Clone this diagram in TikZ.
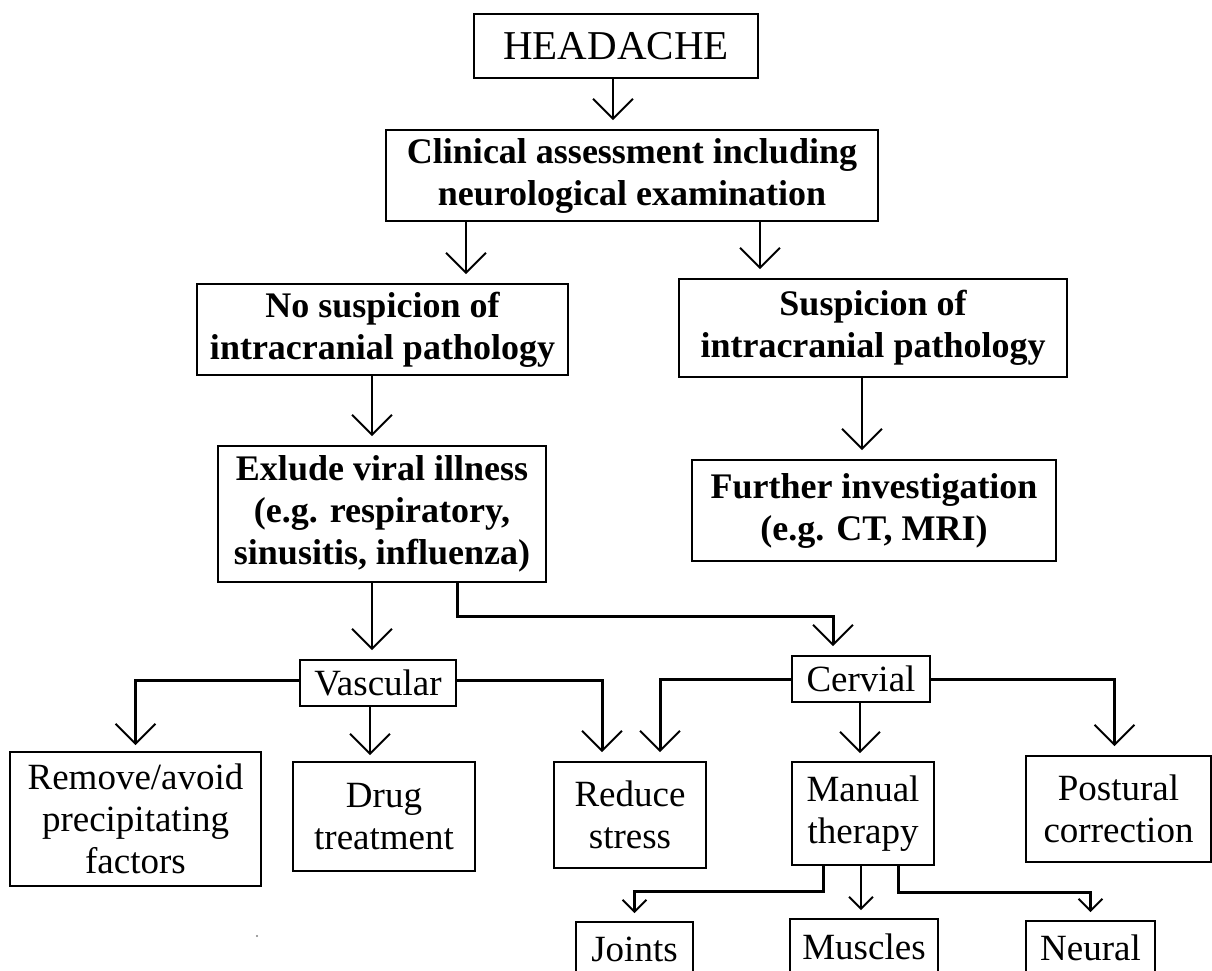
\documentclass[tikz,border=0pt]{standalone}
\usepackage{fontspec}
\setmainfont{Liberation Serif}
\usetikzlibrary{arrows.meta}

\begin{document}
\begin{tikzpicture}[x=1pt, y=-1pt,
    box/.style={draw, line width=1.6pt, inner sep=0pt, align=center},
    bbox/.style={box, font=\fontsize{36}{42}\selectfont\bfseries},
    pbox/.style={box, font=\fontsize{37}{42}\selectfont},
    arr/.style={-{Straight Barb[length=20pt,width=40pt,line width=2pt]}, line width=2pt, shorten >=9pt},
    elbow/.style={arr, line width=3pt},
    small/.style={-{Straight Barb[length=12pt,width=24pt,line width=2pt]}, line width=2.5pt, shorten >=8pt}]
    \useasboundingbox (0,0) rectangle (1212,971);
    \clip (0,0) rectangle (1212,971);

    % upper part
    \node[box, font=\fontsize{41}{48}\selectfont, minimum width=284pt, minimum height=64pt] (headache) at (616,46) {HEADACHE};
    \node[bbox, minimum width=492pt, minimum height=91pt] (clinical) at (632,175.5) {Clinical assessment including\\neurological examination};
    \node[bbox, minimum width=371pt, minimum height=91pt] (nosusp) at (382.5,329.5) {No suspicion of\\intracranial pathology};
    \node[bbox, minimum width=388pt, minimum height=98pt] (susp) at (873,328) {Suspicion of\\intracranial pathology};
    \node[bbox, minimum width=328pt, minimum height=136pt] (exlude) at (382,514) {Exlude viral illness\\(e.g. respiratory,\\sinusitis, influenza)};
    \node[bbox, minimum width=364pt, minimum height=101pt] (further) at (874,510.5) {Further investigation\\(e.g. CT, MRI)};

    % lower part
    \node[pbox, minimum width=156pt, minimum height=46pt] (vascular) at (378,683) {Vascular};
    \node[pbox, minimum width=138pt, minimum height=46pt] (cervial) at (861,679) {Cervial};
    \node[pbox, minimum width=251pt, minimum height=134pt] (remove) at (135.5,819) {Remove/avoid\\precipitating\\factors};
    \node[pbox, minimum width=182pt, minimum height=109pt] (drug) at (384,816.5) {Drug\\treatment};
    \node[pbox, minimum width=152pt, minimum height=106pt] (reduce) at (630,815) {Reduce\\stress};
    \node[pbox, minimum width=142pt, minimum height=103pt] (manual) at (863,813.5) {Manual\\therapy};
    \node[pbox, minimum width=185pt, minimum height=106pt] (postural) at (1118.5,809) {Postural\\correction};
    \node[pbox, minimum width=117pt, minimum height=54pt] (joints) at (634.5,949) {Joints};
    \node[pbox, minimum width=148pt, minimum height=56pt] (muscles) at (864,947) {Muscles};
    \node[pbox, minimum width=129pt, minimum height=54pt] (neural) at (1090.5,948) {Neural};
    \fill[gray] (257,936) circle (1.2);

    \draw[arr] ([xshift=-3pt]headache.south) -- ([xshift=-19pt]clinical.north);
    \draw[arr] ([xshift=-166pt]clinical.south) -- ([xshift=83.5pt]nosusp.north);
    \draw[arr] ([xshift=128pt]clinical.south) -- ([xshift=-113pt]susp.north);
    \draw[arr] ([xshift=-10.5pt]nosusp.south) -- ([xshift=-10pt]exlude.north);
    \draw[arr] ([xshift=-11pt]susp.south) -- ([xshift=-12pt]further.north);
    \draw[arr] ([xshift=-10pt]exlude.south) -- ([xshift=-6pt]vascular.north);
    \draw[elbow] ([xshift=75pt]exlude.south) |- ([xshift=-28pt,yshift=39pt]cervial.north) -- ([xshift=-28pt]cervial.north);

    \draw[elbow, shorten >=6pt] ([yshift=3pt]vascular.west) -| (remove.north);
    \draw[arr, shorten >=6pt] ([xshift=-8pt]vascular.south) -- ([xshift=-14pt]drug.north);
    \draw[elbow] ([yshift=3pt]vascular.east) -| ([xshift=-28pt]reduce.north);
    \draw[elbow] (cervial.west) -| ([xshift=30pt]reduce.north);
    \draw[arr, shorten >=8pt] ([xshift=-1pt]cervial.south) -- ([xshift=-3pt]manual.north);
    \draw[elbow] (cervial.east) -| ([xshift=-4pt]postural.north);

    \draw[small, line width=3pt] ([xshift=-40pt]manual.south) |- ([yshift=30pt]joints.north) -- (joints.north);
    \draw[small] ([xshift=-2pt]manual.south) -- ([xshift=-3pt]muscles.north);
    \draw[small, line width=3pt] ([xshift=35pt]manual.south) |- ([yshift=28pt]neural.north) -- (neural.north);
\end{tikzpicture}
\end{document}
